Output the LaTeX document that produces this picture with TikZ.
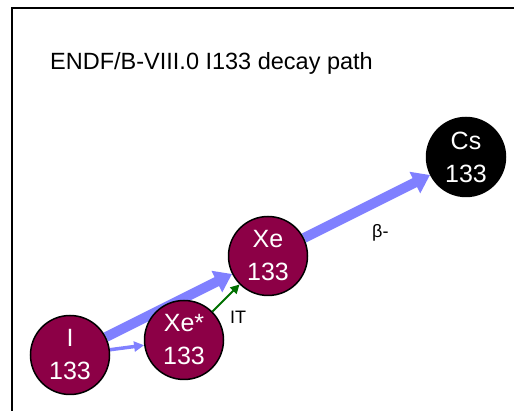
\documentclass[tikz,border=0pt]{standalone}
\usepackage{fontspec}
\setmainfont{Liberation Sans}
\usepackage{xcolor}
\usetikzlibrary{arrows.meta,backgrounds}
\definecolor{nucred}{RGB}{140,0,70}
\definecolor{decayblue}{RGB}{128,128,255}
\definecolor{itgreen}{RGB}{0,112,0}

\begin{document}
\begin{tikzpicture}[
		x=1pt, y=1pt,
		nuc/.style={circle, draw, line width=1.5pt, fill=nucred, text=white, align=center,
				minimum size=79pt, inner sep=0pt, font=\fontsize{25}{33}\selectfont},
		stable/.style={nuc, fill=black},
		big/.style={draw=decayblue, line width=10pt, -{Triangle[width=23pt,length=17pt]}},
		small/.style={draw=decayblue, line width=3.5pt, -{Triangle[width=10pt,length=10pt]}},
		itarr/.style={draw=itgreen, line width=2pt, -{Triangle[width=9pt,length=9pt]}},
		lbl/.style={anchor=base west, inner sep=0pt, font=\fontsize{18}{20}\selectfont}
		]
		\useasboundingbox (0,0) rectangle (514,411);
		\draw[line width=2pt] (12,0) -- (12,402.5) -- (514,402.5);
		\node[anchor=base west, inner sep=0pt, font=\fontsize{23.5}{26}\selectfont] (title) at (50,341) {ENDF/B-VIII.0 I133 decay path};
		\node[nuc] (i133) at (70,56) {I\\133};
		\node[nuc] (xestar) at (184,71) {Xe*\\133};
		\node[nuc] (xe) at (268,155) {Xe\\133};
		\node[stable] (cs) at (466,254) {Cs\\133};
		\begin{scope}[on background layer]
		\foreach \a/\b in {i133/xe, xe/cs}
		\draw[big] (\a)--(\b);
		\draw[small] (i133)--(xestar);
		\draw[itarr] (xestar)--(xe);
		\end{scope}
		\node[lbl] (itlbl) at (230,87) {IT};
		\node[lbl] (betalbl) at (372,173) {β-};
	\end{tikzpicture}
\end{document}
